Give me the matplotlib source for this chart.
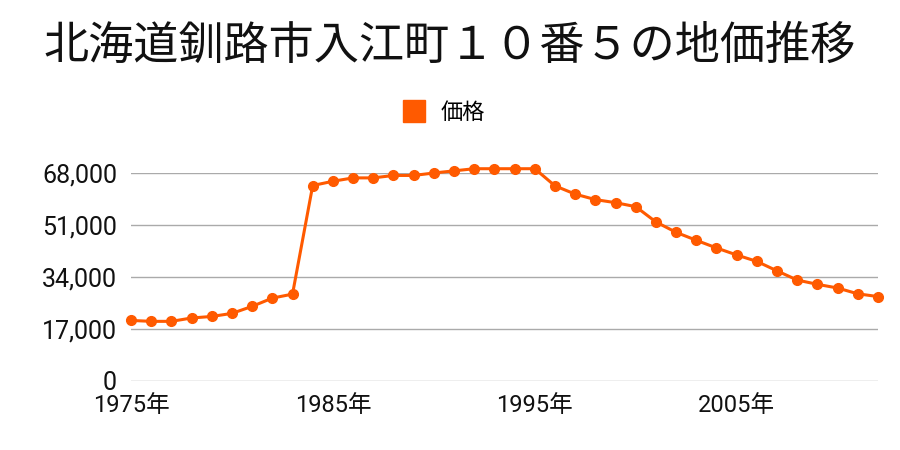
import matplotlib
matplotlib.use("Agg")
import matplotlib.pyplot as plt
from matplotlib.lines import Line2D

plt.rcParams['font.family'] = ['Roboto', 'Noto Sans CJK JP', 'DejaVu Sans']

years = list(range(1975, 2013))
prices = [19800, 19500, 19500, 20600, 21100, 22100, 24400, 27100, 28400,
          63900, 65300, 66400, 66400, 67200, 67200, 68000, 68700, 69400,
          69400, 69400, 69400, 63800, 61100, 59300, 58300, 57000, 52000,
          48600, 46000, 43500, 41200, 39100, 36000, 33000, 31600, 30400,
          28500, 27600]
yticks = [0, 17000, 34000, 51000, 68000]
ytick_labels = ["0", "17,000", "34,000", "51,000", "68,000"]
xticks = [1975, 1985, 1995, 2005]
xtick_labels = ["1975年", "1985年", "1995年", "2005年"]
title = "北海道釧路市入江町１０番５の地価推移"
series_name = "価格"
color = "#ff5a00"

fig = plt.figure(figsize=(9, 4.5), dpi=100)
ax = fig.add_axes([131/900, 1-381/450, (878-131)/900, (381-173)/450])
ax.plot(years, prices, color=color, lw=2.2, marker='o', ms=7, clip_on=False, zorder=3)
ax.set_xlim(1975, 2012)
ax.set_ylim(0, 68000)
ax.set_yticks(yticks)
ax.set_yticklabels(ytick_labels)
ax.set_xticks(xticks)
ax.set_xticklabels(xtick_labels)
ax.grid(axis='y', color='#aaaaaa', lw=1)
ax.set_axisbelow(True)
for s in ax.spines.values():
    s.set_visible(False)
ax.tick_params(axis='both', length=0, colors='#111111')
ax.tick_params(axis='y', pad=10, labelsize=18)
ax.tick_params(axis='x', pad=9, labelsize=17)

fig.text(0.5, 1-46/450, title, ha='center', va='center', fontsize=32.5,
         color='#111111', family=['Noto Sans CJK JP', 'DejaVu Sans'])
handle = Line2D([], [], color=color, marker='s', ms=16.5, lw=0)
fig.legend([handle], [series_name], loc='center', bbox_to_anchor=(438/900, 1-112/450),
           frameon=False, fontsize=16, handletextpad=0.2,
           prop={'family': ['Noto Sans CJK JP'], 'size': 16})

fig.savefig("out.png", dpi=100)
